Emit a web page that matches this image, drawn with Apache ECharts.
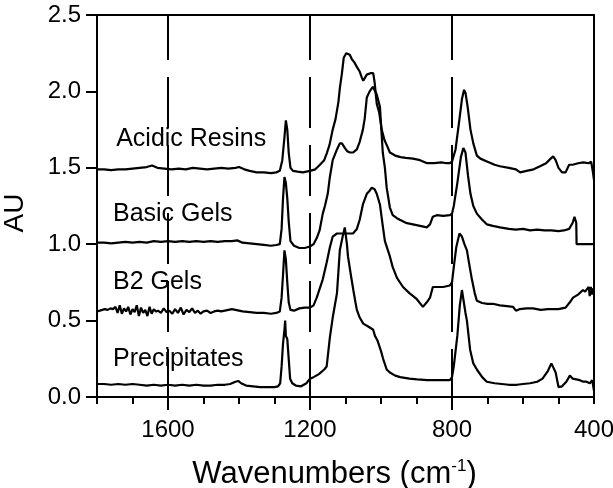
<!DOCTYPE html>
<html>
<head>
<meta charset="utf-8">
<script src="https://cdn.jsdelivr.net/npm/echarts@6/dist/echarts.min.js"></script>
<style>
  html, body { margin: 0; padding: 0; background: #fff; }
  #chart { width: 613px; height: 488px; }
</style>
</head>
<body>
<div id="chart"></div>
<script>
// Sample names, in the order they are stacked from top to bottom
const sampleNames = ['Acidic Resins', 'Basic Gels', 'B2 Gels', 'Precipitates'];

// Where each sample name starts: [wavenumber, AU]
const nameAnchors = [[1746, 1.685], [1755, 1.20], [1755, 0.755], [1755, 0.245]];

// Wavenumbers of the reference dashed lines
const guideLines = [1600, 1200, 800];

// Spectra: [wavenumber (cm-1), absorbance (AU)]
const acidicResins = [
  [1800,1.49],[1780,1.49],[1760,1.485],[1740,1.49],[1720,1.49],[1700,1.495],[1680,1.50],[1660,1.505],
  [1645,1.515],[1630,1.50],[1610,1.495],[1590,1.49],[1570,1.495],[1550,1.49],[1530,1.50],[1510,1.495],
  [1490,1.49],[1470,1.495],[1450,1.50],[1430,1.495],[1410,1.50],[1400,1.505],[1385,1.49],[1370,1.48],
  [1350,1.47],[1330,1.47],[1310,1.465],[1295,1.47],[1285,1.48],[1278,1.55],[1272,1.70],[1268,1.81],
  [1264,1.75],[1260,1.60],[1255,1.50],[1248,1.48],[1235,1.475],[1220,1.47],[1200,1.48],[1185,1.49],
  [1172,1.52],[1160,1.55],[1152,1.60],[1145,1.65],[1136,1.75],[1128,1.82],[1120,1.93],[1116,2.02],
  [1110,2.12],[1105,2.22],[1098,2.25],[1093,2.26],[1088,2.24],[1082,2.21],[1075,2.19],[1068,2.16],
  [1060,2.13],[1054,2.09],[1050,2.07],[1045,2.09],[1040,2.11],[1035,2.12],[1028,2.12],[1022,2.12],
  [1018,2.06],[1012,1.92],[1005,1.86],[998,1.75],[990,1.68],[984,1.65],[975,1.60],[960,1.58],
  [945,1.57],[930,1.565],[910,1.56],[890,1.55],[870,1.53],[850,1.53],[830,1.535],[815,1.53],
  [806,1.53],[800,1.54],[790,1.62],[780,1.80],[772,1.95],[766,2.01],[762,1.99],[756,1.90],
  [748,1.75],[740,1.66],[730,1.58],[720,1.56],[700,1.54],[680,1.52],[665,1.51],[640,1.50],
  [620,1.49],[608,1.47],[590,1.48],[570,1.49],[552,1.51],[535,1.53],[522,1.56],[515,1.575],
  [508,1.55],[500,1.50],[490,1.47],[480,1.47],[470,1.52],[460,1.52],[445,1.53],[430,1.535],
  [415,1.53],[408,1.54],[403,1.47],[400,1.42]
];

const basicGels = [
  [1800,1.01],[1780,1.01],[1760,1.005],[1740,1.01],[1720,1.015],[1700,1.01],[1680,1.015],[1660,1.01],
  [1640,1.02],[1620,1.015],[1600,1.02],[1580,1.015],[1560,1.02],[1540,1.015],[1520,1.02],[1500,1.015],
  [1480,1.02],[1460,1.015],[1440,1.02],[1420,1.02],[1405,1.025],[1390,1.01],[1370,1.005],[1350,1.00],
  [1330,0.995],[1310,0.99],[1295,0.995],[1285,1.00],[1280,1.10],[1276,1.30],[1272,1.44],[1268,1.40],
  [1264,1.30],[1260,1.15],[1255,1.02],[1245,0.99],[1230,0.975],[1215,0.975],[1200,0.985],[1190,1.00],
  [1181,1.04],[1173,1.09],[1164,1.20],[1158,1.25],[1150,1.33],[1144,1.44],[1136,1.55],[1124,1.62],
  [1116,1.66],[1110,1.66],[1102,1.63],[1096,1.61],[1088,1.60],[1079,1.60],[1068,1.62],[1060,1.67],
  [1051,1.75],[1046,1.82],[1040,1.96],[1032,2.00],[1023,2.03],[1018,2.02],[1012,1.98],[1003,1.90],
  [995,1.60],[989,1.50],[984,1.37],[975,1.24],[967,1.19],[955,1.17],[947,1.16],[930,1.14],
  [910,1.13],[890,1.12],[871,1.11],[862,1.13],[854,1.18],[843,1.19],[825,1.185],[806,1.19],
  [800,1.20],[795,1.25],[785,1.40],[775,1.57],[768,1.63],[762,1.60],[755,1.45],[748,1.33],
  [740,1.25],[730,1.20],[715,1.16],[702,1.13],[685,1.12],[665,1.11],[640,1.10],[620,1.095],
  [600,1.10],[580,1.09],[560,1.095],[540,1.09],[520,1.09],[500,1.085],[485,1.09],[470,1.10],
  [460,1.14],[455,1.18],[450,1.14],[449,1.00],[420,1.00],[400,1.00]
];

const b2Gels = [
  [1800,0.56],[1792,0.565],[1785,0.57],[1778,0.575],[1770,0.57],[1762,0.58],[1755,0.575],[1748,0.59],
  [1742,0.55],[1736,0.60],[1730,0.545],[1724,0.58],[1718,0.56],[1712,0.59],[1706,0.54],[1700,0.575],
  [1694,0.555],[1688,0.60],[1682,0.53],[1676,0.585],[1670,0.55],[1664,0.57],[1658,0.53],[1652,0.59],
  [1646,0.545],[1640,0.575],[1634,0.56],[1628,0.565],[1620,0.55],[1612,0.58],[1604,0.555],[1596,0.565],
  [1588,0.545],[1580,0.575],[1572,0.55],[1564,0.585],[1556,0.54],[1548,0.57],[1540,0.555],[1532,0.58],
  [1524,0.55],[1516,0.565],[1508,0.545],[1500,0.56],[1490,0.565],[1480,0.55],[1470,0.56],[1460,0.565],
  [1450,0.56],[1440,0.565],[1430,0.57],[1420,0.575],[1410,0.57],[1400,0.565],[1390,0.56],[1370,0.555],
  [1350,0.55],[1330,0.55],[1310,0.545],[1295,0.55],[1285,0.56],[1280,0.65],[1276,0.80],[1272,0.96],
  [1268,0.90],[1264,0.75],[1260,0.62],[1255,0.57],[1245,0.565],[1230,0.58],[1215,0.585],[1200,0.585],
  [1190,0.60],[1181,0.65],[1164,0.77],[1153,0.88],[1144,0.98],[1136,1.05],[1124,1.07],[1110,1.07],
  [1096,1.07],[1079,1.07],[1068,1.10],[1060,1.16],[1051,1.26],[1040,1.33],[1032,1.35],[1026,1.37],
  [1018,1.36],[1012,1.33],[1003,1.26],[995,1.12],[989,1.02],[975,0.92],[967,0.85],[955,0.78],
  [938,0.72],[920,0.68],[899,0.64],[882,0.59],[871,0.62],[862,0.65],[854,0.72],[843,0.72],
  [825,0.72],[806,0.73],[800,0.75],[795,0.85],[788,0.98],[779,1.07],[772,1.05],[765,1.00],
  [758,0.96],[750,0.85],[744,0.77],[736,0.68],[730,0.63],[715,0.615],[700,0.61],[685,0.61],
  [665,0.60],[645,0.595],[628,0.59],[620,0.565],[617,0.555],[610,0.575],[590,0.58],[572,0.58],
  [550,0.57],[530,0.575],[500,0.575],[496,0.57],[480,0.585],[468,0.62],[459,0.65],[445,0.67],
  [431,0.70],[425,0.69],[420,0.68],[415,0.72],[412,0.66],[409,0.72],[406,0.67],[403,0.71],[400,0.70]
];

const precipitates = [
  [1800,0.085],[1780,0.085],[1760,0.08],[1740,0.085],[1720,0.08],[1700,0.085],[1680,0.08],[1660,0.075],
  [1640,0.08],[1620,0.075],[1600,0.08],[1580,0.075],[1560,0.08],[1540,0.075],[1520,0.08],[1500,0.075],
  [1480,0.075],[1460,0.08],[1440,0.08],[1425,0.085],[1410,0.10],[1402,0.105],[1394,0.09],[1380,0.075],
  [1360,0.07],[1340,0.065],[1320,0.065],[1300,0.065],[1290,0.07],[1284,0.09],[1280,0.20],[1276,0.35],
  [1272,0.44],[1270,0.50],[1268,0.40],[1264,0.38],[1260,0.25],[1256,0.12],[1250,0.09],[1240,0.075],
  [1225,0.07],[1210,0.09],[1200,0.12],[1190,0.13],[1175,0.15],[1160,0.18],[1153,0.20],[1144,0.39],
  [1136,0.52],[1124,0.68],[1116,0.96],[1108,1.05],[1102,1.11],[1096,1.00],[1093,0.92],[1085,0.80],
  [1078,0.70],[1072,0.62],[1068,0.57],[1060,0.52],[1050,0.48],[1035,0.46],[1022,0.44],[1017,0.40],
  [1010,0.37],[1000,0.30],[994,0.25],[984,0.18],[975,0.16],[960,0.14],[946,0.13],[920,0.12],
  [898,0.115],[870,0.11],[850,0.11],[830,0.11],[806,0.11],[800,0.13],[795,0.20],[785,0.40],
  [778,0.60],[772,0.70],[767,0.70],[762,0.55],[758,0.50],[749,0.31],[740,0.22],[730,0.18],
  [715,0.13],[702,0.10],[680,0.09],[660,0.085],[640,0.08],[617,0.08],[600,0.085],[580,0.09],
  [560,0.10],[545,0.12],[530,0.17],[520,0.22],[515,0.21],[508,0.16],[500,0.065],[490,0.07],
  [478,0.10],[468,0.14],[460,0.12],[450,0.115],[440,0.11],[430,0.10],[421,0.10],[412,0.09],
  [405,0.11],[400,0.04]
];

const spectra = [acidicResins, basicGels, b2Gels, precipitates];

const FONT = 'Liberation Sans, Arial, sans-serif';
const INK = '#000';

const chart = echarts.init(document.getElementById('chart'), null, { renderer: 'canvas' });

const traceSeries = spectra.map((pts, i) => ({
  name: sampleNames[i],
  type: 'line',
  data: pts,
  showSymbol: false,
  symbol: 'none',
  lineStyle: { color: INK, width: 2.2 },
  z: 3
}));

const option = {
  animation: false,
  backgroundColor: '#fff',
  grid: {
    left: 97, right: 19, top: 15, bottom: 91,
    containLabel: false,
    outerBoundsMode: 'none',
    show: true, borderColor: INK, borderWidth: 2, backgroundColor: 'transparent'
  },
  xAxis: [
    {
      type: 'value', min: 400, max: 1800, interval: 100, inverse: true,
      name: 'Wavenumbers (cm{sup|-1})',
      nameLocation: 'middle', nameGap: 61,
      nameTextStyle: {
        fontFamily: FONT, fontSize: 31, color: INK, padding: [0, 22, 0, 0],
        rich: { sup: { fontFamily: FONT, fontSize: 17, color: INK, verticalAlign: 'top', lineHeight: 32 } }
      },
      axisLine: { show: true, lineStyle: { color: INK, width: 2 } },
      axisTick: { show: true, inside: false, length: 7, lineStyle: { color: INK, width: 2 } },
      axisLabel: {
        show: true, margin: 21, fontFamily: FONT, fontSize: 24, color: INK,
        formatter: v => (v % 400 === 0 ? String(v) : '')
      },
      splitLine: { show: false }
    },
    {
      type: 'value', min: 400, max: 1800, inverse: true, position: 'bottom',
      axisLine: { show: false },
      axisTick: { show: true, inside: false, length: 13, customValues: guideLines,
        lineStyle: { color: INK, width: 2 } },
      axisLabel: { show: false },
      splitLine: { show: false }
    }
  ],
  yAxis: {
    type: 'value', min: 0, max: 2.5, interval: 0.5,
    name: 'AU', nameLocation: 'middle', nameGap: 68, nameRotate: 90,
    nameTextStyle: { fontFamily: FONT, fontSize: 28, color: INK, padding: [0, 14, 0, 0] },
    axisLine: { show: true, lineStyle: { color: INK, width: 2 } },
    axisTick: { show: true, inside: false, length: 11, lineStyle: { color: INK, width: 2 } },
    axisLabel: { margin: 16, fontFamily: FONT, fontSize: 24, color: INK, formatter: v => v.toFixed(1) },
    splitLine: { show: false }
  },
  series: [
    {
      name: 'guides',
      type: 'line',
      data: [],
      markLine: {
        silent: true,
        symbol: 'none',
        label: { show: false },
        lineStyle: { color: INK, width: 2, type: [51, 17], dashOffset: 3 },
        data: guideLines.map(w => [{ coord: [w, 0] }, { coord: [w, 2.5] }])
      },
      z: 2
    },
    ...traceSeries,
    {
      name: 'sample labels',
      type: 'scatter',
      data: nameAnchors.map((p, i) => ({ value: p, name: sampleNames[i] })),
      symbolSize: 0,
      itemStyle: { opacity: 1 },
      label: {
        show: true, position: 'right', distance: 0,
        formatter: p => p.name,
        fontFamily: FONT, fontSize: 25, color: INK, opacity: 1
      },
      z: 4
    }
  ]
};

chart.setOption(option);
</script>
</body>
</html>
